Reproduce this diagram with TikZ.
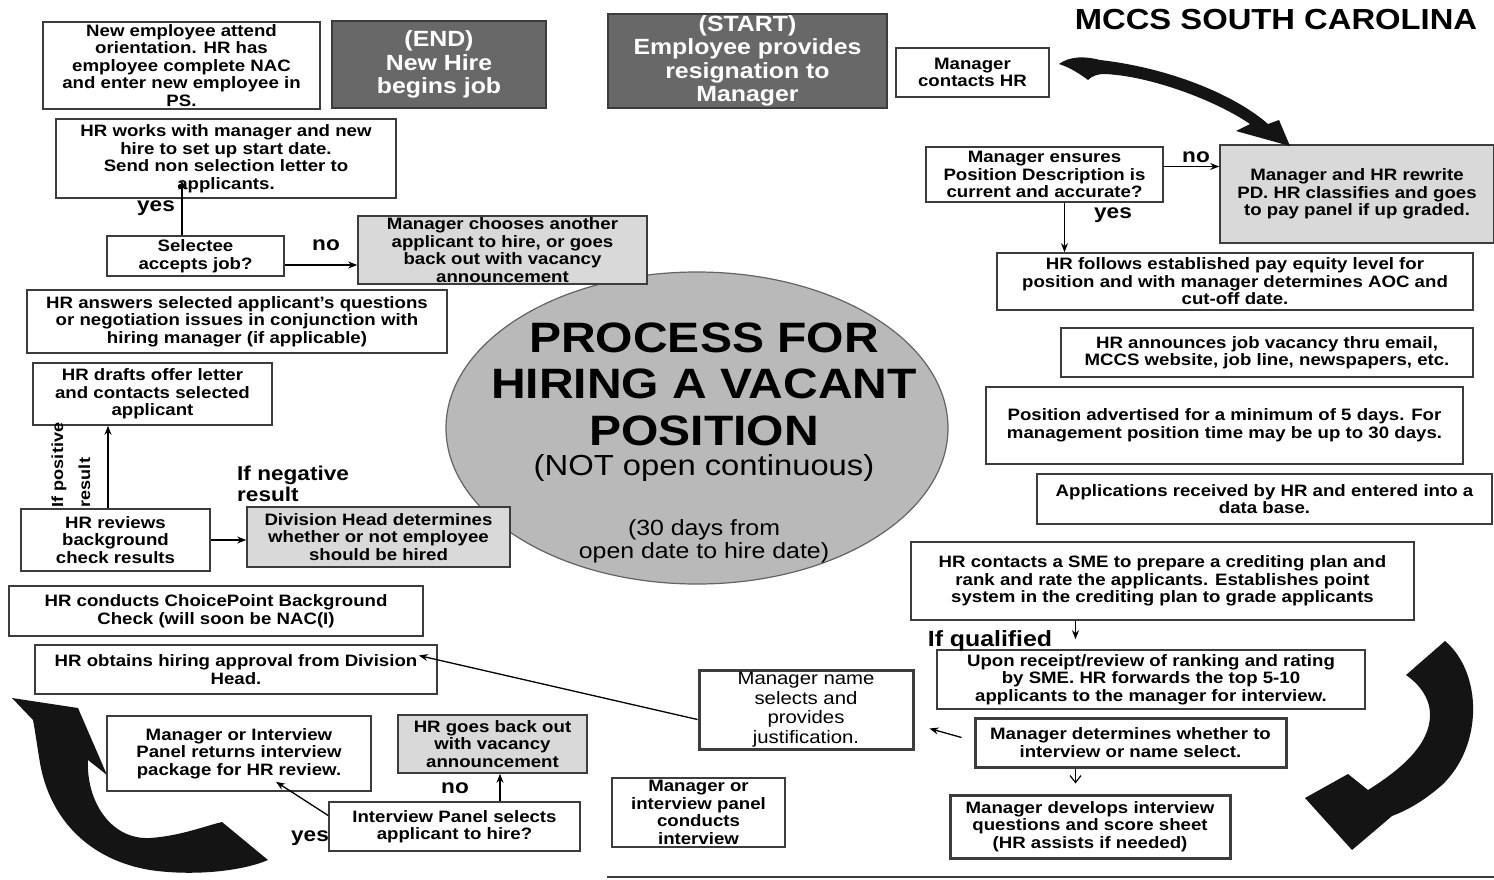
\documentclass[tikz,border=0pt]{standalone}
\usepackage{fontspec}
\setmainfont[FakeStretch=1.13]{Liberation Sans}
\usetikzlibrary{arrows.meta,shapes.geometric}

\definecolor{edge}{HTML}{3C3C3C}
\definecolor{darkbox}{HTML}{686868}
\definecolor{lightbox}{HTML}{D9D9D9}
\definecolor{hubfill}{HTML}{B9B9B9}

\begin{document}
\begin{tikzpicture}[x=1pt, y=-1pt, >={Stealth[length=9pt,width=7pt]},
        every node/.style = {align=center, inner sep=0pt, text=black},
        box/.style = {draw=edge, line width=1.6pt, fill=white,
            font=\bfseries\fontsize{16.5}{17.5}\selectfont},
        grey/.style = {box, fill=lightbox},
        heavy/.style = {box, line width=3pt},
        dark/.style = {box, fill=darkbox, text=white,
            font=\bfseries\fontsize{22}{23.5}\selectfont},
        flow/.style = {->, line width=1.3pt},
        lbl/.style = {font=\bfseries\fontsize{20}{21}\selectfont}]
    \path[fill=white, use as bounding box] (0,0) rectangle (1494,879);

    % centre
    \node[ellipse, draw=edge!80, line width=1.2pt, fill=hubfill,
        minimum width=502, minimum height=312] (0) at (697,428) {};
    \node[font=\bfseries\fontsize{42.5}{46.5}\selectfont] (head) at (704,384)
        {PROCESS FOR\\ HIRING A VACANT\\ POSITION};
    \node[font=\fontsize{29}{30}\selectfont] (sub) at (704,468) {(NOT open continuous)};
    \node[font=\fontsize{22}{23}\selectfont] (days) at (704,541)
        {(30 days from\\ open date to hire date)};
    \node[font=\bfseries\fontsize{29}{30}\selectfont] (mccs) at (1276,20) {MCCS SOUTH CAROLINA};

    % steps
    \node[dark, minimum width=279, minimum height=94] (1) at (747.5,61)
        {(START)\\ Employee provides\\ resignation to\\ Manager};
    \node[box, minimum width=153, minimum height=49] (2) at (972.5,72.5) {Manager\\ contacts HR};
    \node[box, minimum width=237, minimum height=55] (3) at (1044.5,174.5)
        {Manager ensures\\ Position Description is\\ current and accurate?};
    \node[grey, minimum width=274, minimum height=98] (4) at (1357,194)
        {Manager and HR rewrite\\ PD.  HR classifies and goes\\ to pay panel if  up graded.};
    \node[box, minimum width=476, minimum height=57] (5) at (1235,281.5)
        {HR follows established pay equity level for\\ position and with manager determines AOC and\\ cut-off date.};
    \node[box, minimum width=412, minimum height=49] (6) at (1267,352.5)
        {HR announces job vacancy thru email,\\ MCCS website, job line, newspapers, etc.};
    \node[box, minimum width=477, minimum height=77] (7) at (1224.5,425.5)
        {Position advertised for a minimum of 5 days.  For\\ management position time may be up to 30 days.};
    \node[box, minimum width=455, minimum height=50] (8) at (1264.5,499)
        {Applications received by HR and entered into a\\ data base.};
    \node[box, minimum width=503, minimum height=78] (9) at (1162.5,581)
        {HR contacts a SME  to prepare a crediting plan and\\ rank and rate the applicants.  Establishes point\\ system in the crediting plan to grade applicants};
    \node[box, minimum width=428, minimum height=59] (10) at (1151,679.5)
        {Upon receipt/review of ranking and rating\\ by SME.  HR forwards the top 5-10\\ applicants to the manager for interview.};
    \node[heavy, minimum width=311, minimum height=49] (11) at (1130.5,742.5)
        {Manager determines whether to\\ interview or name select.};
    \node[grey, heavy, minimum width=214, minimum height=79,
        font=\fontsize{18}{19.5}\selectfont] (12) at (806,709.5)
        {Manager name\\ selects and\\ provides\\ justification.};
    \node[heavy, minimum width=280, minimum height=63] (13) at (1090,826.5)
        {Manager develops interview\\ questions and score sheet\\ (HR assists if needed)};
    \node[box, minimum width=173, minimum height=69] (14) at (698.5,812.5)
        {Manager or\\ interview panel\\ conducts\\ interview};
    \node[box, minimum width=251, minimum height=49] (15) at (454.5,826.5)
        {Interview Panel selects\\ applicant to hire?};
    \node[grey, minimum width=189, minimum height=58] (16) at (492.5,744)
        {HR goes back out\\ with vacancy\\ announcement};
    \node[box, minimum width=264, minimum height=75] (17) at (239,753.5)
        {Manager or Interview\\ Panel returns interview\\ package for HR review.};
    \node[box, minimum width=402, minimum height=49] (18) at (236,669.5)
        {HR obtains hiring approval from Division\\ Head.};
    \node[box, minimum width=414, minimum height=50] (19) at (216,611)
        {HR conducts ChoicePoint Background\\ Check (will soon be NAC(I)};
    \node[box, minimum width=189, minimum height=62] (20) at (115.5,540)
        {HR reviews\\ background\\ check results};
    \node[grey, minimum width=263, minimum height=60] (21) at (378.5,537)
        {Division Head determines\\ whether or not employee\\ should be hired};
    \node[box, minimum width=239, minimum height=62] (22) at (152.5,394)
        {HR drafts offer letter\\ and contacts selected\\ applicant};
    \node[box, minimum width=420, minimum height=63] (23) at (237,321.5)
        {HR answers selected applicant's questions\\ or negotiation issues in conjunction with\\ hiring manager (if applicable)};
    \node[box, minimum width=177, minimum height=40] (24) at (195.5,256) {Selectee\\ accepts job?};
    \node[grey, minimum width=289, minimum height=68] (25) at (502.5,250)
        {Manager chooses another\\ applicant to hire, or goes\\ back out with vacancy\\ announcement};
    \node[box, minimum width=340, minimum height=79] (26) at (226,158.5)
        {HR works with manager and new\\ hire to set up start date.\\ Send non selection letter to\\ applicants.};
    \node[box, minimum width=277, minimum height=87] (27) at (181.5,65.5)
        {New employee attend\\ orientation.  HR has\\ employee complete NAC\\ and enter new employee in\\ PS.};
    \node[dark, minimum width=214, minimum height=87] (28) at (439,64.5)
        {(END)\\ New Hire\\ begins job};

    % connectors
    \draw[flow] ([yshift=8pt]3.east) -- ([yshift=8pt]3.east -| 4.west);
    \node[lbl] (no1) at (1196,157) {no};
    \draw[flow] ([xshift=20pt]3.south) -- ([xshift=20pt]3.south |- 5.north);
    \node[lbl] (yes1) at (1113,215) {yes};
    \draw[flow] ([xshift=-87pt]9.south) -- ([xshift=-87pt,yshift=10pt]9.south |- 10.north);
    \node[font=\bfseries\fontsize{22}{23}\selectfont] (qual) at (990,641) {If qualified};
    \draw[-{Straight Barb[length=7pt,width=11pt]}, line width=1.2pt]
        ([xshift=-55pt]11.south) -- ([xshift=-55pt,yshift=10pt]11.south |- 13.north);
    \draw[flow] ([xshift=-12pt,yshift=5pt]11.west) -- ([xshift=15pt,yshift=-19pt]12.east);
    \draw[flow] ([yshift=-10pt]12.west) -- ([xshift=-19pt,yshift=14pt]18.east);
    \draw[flow] ([xshift=45.5pt]15.north) -- ([xshift=45.5pt]15.north |- 16.south);
    \node[lbl] (no2) at (455,788) {no};
    \draw[flow] ([yshift=11pt]15.west) -- ([xshift=37pt,yshift=10pt]17.south);
    \node[lbl] (yes2) at (310,838) {yes};
    \draw[flow] (20.east) -- (20.east -| 21.west);
    \node[lbl, anchor=north west, align=left] (neg) at (237,466) {If negative\\ result};
    \draw[flow] ([xshift=-7.5pt]20.north) -- ([xshift=-7.5pt]20.north |- 22.south);
    \node[font=\bfseries\fontsize{16}{27}\selectfont, rotate=90, align=left] (pos) at (71,465)
        {If positive\\ result};
    \draw[flow] ([xshift=-13.5pt]24.north) -- ([xshift=-13.5pt,yshift=18pt]24.north |- 26.south);
    \node[lbl] (yes3) at (156,208) {yes};
    \draw[flow] ([yshift=-9pt]24.east) -- ([yshift=-9pt]24.east -| 25.west);
    \node[lbl] (no3) at (326,245) {no};

    % big curved arrows
    \fill[black!92] (1088,80) .. controls (1075,70) and (1065,66) .. (1059,64)
        .. controls (1070,56) and (1085,56) .. (1100,60)
        .. controls (1170,68) and (1235,95) .. (1268,124)
        -- (1279,120) -- (1290,146) -- (1236,131) -- (1250,124)
        .. controls (1215,100) and (1150,76) .. (1105,74)
        .. controls (1097,74) and (1092,76) .. (1088,80) -- cycle;
    \fill[black!92] (1445,641) .. controls (1482,672) and (1484,745) .. (1442,785)
        .. controls (1425,800) and (1408,810) .. (1392,816)
        -- (1352,850) -- (1305,798) -- (1348,774) -- (1368,790)
        .. controls (1400,770) and (1430,745) .. (1430,715)
        .. controls (1430,698) and (1420,685) .. (1406,675) -- cycle;
    \fill[black!92] (12,698) -- (78,708) -- (107,775) -- (88,760)
        .. controls (86,800) and (110,840) .. (150,838)
        .. controls (180,836) and (205,826) .. (222,822)
        -- (268,860) .. controls (240,872) and (190,876) .. (150,870)
        .. controls (90,860) and (50,820) .. (40,763)
        .. controls (37,745) and (35,730) .. (33,720) -- cycle;

    \draw[edge, line width=2pt] (607,877) -- (1494,877);
\end{tikzpicture}
\end{document}
